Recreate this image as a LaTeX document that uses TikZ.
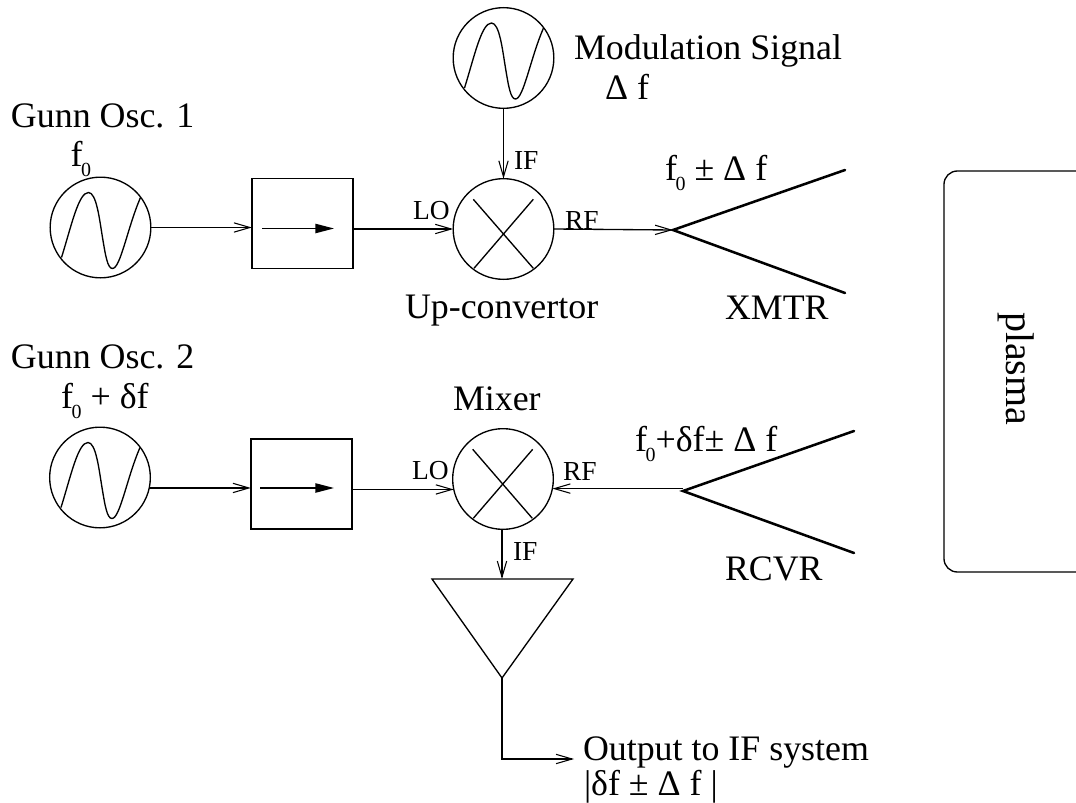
\documentclass[tikz,border=0pt]{standalone}
\usepackage{fontspec}
\setmainfont{Liberation Serif}
\usetikzlibrary{arrows.meta}
\newcommand{\bigtxt}{\fontsize{26.9}{30}\selectfont}
\newcommand{\smalltxt}{\fontsize{20.6}{24}\selectfont}
\newcommand{\subz}{\kern-1pt\raisebox{-7.5pt}{\fontsize{15}{15}\selectfont 0}}
\newcommand{\wavein}[1]{\draw[wire,shift={(#1)}] (-39,30) .. controls (-29,-2) and (-22,-35) .. (-12,-35)
  .. controls (-4,-35) and (-1,-8) .. (2,10) .. controls (5,28) and (7,41) .. (12,41)
  .. controls (20,41) and (27,0) .. (40,-30);}
\tikzset{
  wire/.style={line width=1pt,line join=round},
  blockcircle/.style={draw,circle,line width=1pt,minimum size=75.5pt,inner sep=0pt,outer sep=0pt},
  isobox/.style={draw,rectangle,line width=1.1pt,minimum width=76pt,minimum height=67.5pt,inner sep=0pt,outer sep=0pt},
  conn/.style={line width=1pt,-{Straight Barb[length=12pt,width=7pt,line width=0.8pt]}},
  inner/.style={line width=1pt,-{Triangle[length=14pt,width=7pt]}},
  horn/.style={line width=1.9pt,line cap=round,line join=miter},
  big/.style={anchor=base west,inner sep=0pt,outer sep=0pt,font=\bigtxt},
  small/.style={anchor=base west,inner sep=0pt,outer sep=0pt,font=\smalltxt},
}
\begin{document}
\begin{tikzpicture}[x=0.75pt,y=-0.75pt]
\useasboundingbox (0,0) rectangle (1076,803);

% blocks
\node[blockcircle] (osc1) at (100.5,227.5) {};
\node[blockcircle] (osc2) at (100,477.5) {};
\node[blockcircle] (mod) at (503.5,58) {};
\node[blockcircle] (mix1) at (503.5,229) {};
\node[blockcircle] (mix2) at (503,479) {};
\node[isobox] (box1) at (302.5,223.5) {};
\node[isobox] (box2) at (301.5,484) {};

% sine waves
\wavein{100.5,227.5}
\wavein{100,477.5}
\wavein{503.5,58}

% mixer crosses
\draw[wire] (473.3,199.3) -- (533.3,268.3);
\draw[wire] (533.3,199.3) -- (474,268.3);
\draw[wire] (472.7,449.3) -- (532.3,518.3);
\draw[wire] (532.7,449.3) -- (473.3,518.3);

% horns
\coordinate (hornT) at (673,230);
\coordinate (hornR) at (683,491);
\draw[horn] (845,170) -- (hornT) -- (845,293);
\draw[horn] (854,431) -- (hornR) -- (854,553);

% amplifier
\coordinate (ampTop) at (502,579);
\coordinate (ampTip) at (502,678);
\draw[wire,line join=miter] (432,579) -- (573,579) -- (ampTip) -- cycle;

% isolator inner arrows
\coordinate (in1a) at (262,228.5);
\coordinate (in1b) at (334,228.5);
\coordinate (in2a) at (260,488);
\coordinate (in2b) at (334,488);
\draw[inner] (in1a) -- (in1b);
\draw[inner] (in2a) -- (in2b);

% connectors
\draw[conn] (osc1.east) -- (box1.west |- osc1.east);
\draw[conn] (box1.east |- mix1.west) -- (mix1.west);
\draw[conn] (mod.south) -- (mix1.north);
\draw[conn] (mix1.east) -- (hornT);
\draw[conn] (osc2.-12) -- (box2.west |- osc2.-12);
\draw[conn] (box2.east |- mix2.-168) -- (mix2.-168);
\draw[conn] (hornR |- mix2.-11.5) -- (mix2.-11.5);
\draw[conn] (mix2.south -| ampTop) -- (ampTop);
\coordinate (outEnd) at (574,759);
\draw[conn] (ampTip) |- (outEnd);

% plasma
\draw[line width=1pt,rounded corners=10pt] (1076,171) -- (944,171) -- (944,572) -- (1076,572);
\node[anchor=base west,inner sep=0pt,outer sep=0pt,rotate=-90,font=\fontsize{30}{32}\selectfont] (plasma) at (1006,312) {plasma};

% labels
\node[big] (g1) at (11,127.7) {Gunn Osc. 1};
\node[big] (f1) at (70.5,166.7) {f\subz};
\node[big] (ms) at (574,60) {Modulation Signal};
\node[big] (df) at (605,99) {Δ f};
\node[small] (if1) at (514,169) {IF};
\node[small] (lo1) at (413,219) {LO};
\node[small] (rf1) at (565,229) {RF};
\node[big] (ft) at (665,180) {f\subz{} ± Δ f};
\node[big] (uc) at (405,318) {Up-convertor};
\node[big] (xm) at (725,319) {XMTR};
\node[big] (g2) at (11,368) {Gunn Osc. 2};
\node[big] (f2) at (61,408) {f\subz{} + δf};
\node[big] (mx) at (453,410) {Mixer};
\node[small] (lo2) at (412,479) {LO};
\node[small] (rf2) at (563,480) {RF};
\node[big] (fr) at (635,451) {f\subz+δf± Δ f};
\node[small] (if2) at (513,560) {IF};
\node[big] (rc) at (725,580) {RCVR};
\node[big] (ou) at (583,760) {Output to IF system};
\node[big] (ab) at (584,795) {|δf ± Δ f |};
\end{tikzpicture}
\end{document}
